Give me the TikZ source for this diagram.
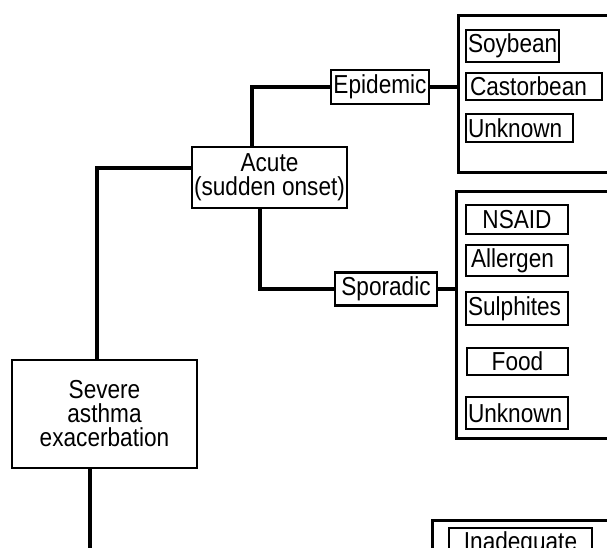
\documentclass[tikz,border=0pt]{standalone}
\usepackage{fontspec}
\setmainfont{Liberation Sans}[FakeStretch=0.87]
\begin{document}
\begin{tikzpicture}[x=1pt,y=-1pt,
  txt/.style={font=\fontsize{26}{24}\selectfont},
  box/.style={txt, draw, line width=2.6pt, fill=white, inner sep=0pt, align=center},
  leaf/.style={txt, draw, line width=2.4pt, fill=white, inner xsep=2pt, inner ysep=0pt},
  wire/.style={line width=3.2pt},
  frame/.style={draw, line width=2.8pt, fill=white, inner sep=0pt, anchor=north west}]
\useasboundingbox (0,0) rectangle (607,548);
\clip (0,0) rectangle (607,548);
% right-hand frames (cut by the page edge)
\node[frame, minimum width=200pt, minimum height=157pt] (big1) at (457,14) {};
\node[frame, minimum width=200pt, minimum height=247pt] (big2) at (455,190) {};
\node[frame, minimum width=220pt, minimum height=100pt] (big3) at (431,519) {};
% main boxes
\node[box, minimum width=155pt, minimum height=61pt] (acute) at (269.5,177.5) {Acute\\(sudden onset)};
\node[box, minimum width=98pt, minimum height=34pt] (epi) at (380,87) {Epidemic};
\node[box, minimum width=102pt, minimum height=33pt] (spor) at (386,289) {Sporadic};
\node[box, minimum width=185pt, minimum height=108pt] (severe) at (104.5,414) {Severe\\asthma\\exacerbation};
% leaves, first frame
\node[leaf, minimum height=32pt, text width=89pt, align=left] (soy) at (512.5,46) {Soybean};
\node[leaf, minimum height=27pt, text width=132pt, align=left] (castor) at (534,86.5) {\hspace{2pt}Castorbean};
\node[leaf, minimum height=28pt, text width=103pt, align=left] (unk1) at (519.5,128) {Unknown};
% leaves, second frame
\node[leaf, minimum height=29pt, text width=98pt, align=center] (nsaid) at (517,219.5) {NSAID};
\node[leaf, minimum height=31pt, text width=98pt, align=left] (allerg) at (517,260.5) {\hspace{3pt}Allergen};
\node[leaf, minimum height=33pt, text width=98pt, align=left] (sulph) at (517,308.5) {Sulphites};
\node[leaf, minimum height=27pt, text width=97pt, align=center] (food) at (517.5,361.5) {Food};
\node[leaf, minimum height=32pt, text width=98pt, align=left] (unk2) at (517,413) {Unknown};
% leaf, third frame
\node[leaf, minimum height=32pt, text width=139pt, align=center] (inad) at (520.5,544) {Inadequate};
% connectors
\coordinate (sevend) at (90,560);
\draw[wire] ([yshift=9.5pt]acute.west) -| ([xshift=-7.5pt]severe.north);
\draw[wire] ([xshift=-17.5pt]acute.north) |- (epi.west);
\draw[wire] ([xshift=-9.5pt]acute.south) |- (spor.west);
\draw[wire] (epi.east) -- (epi.east -| big1.west);
\draw[wire] (spor.east) -- (spor.east -| big2.west);
\draw[wire] ([xshift=-14.5pt]severe.south) -- (sevend);
\end{tikzpicture}
\end{document}
